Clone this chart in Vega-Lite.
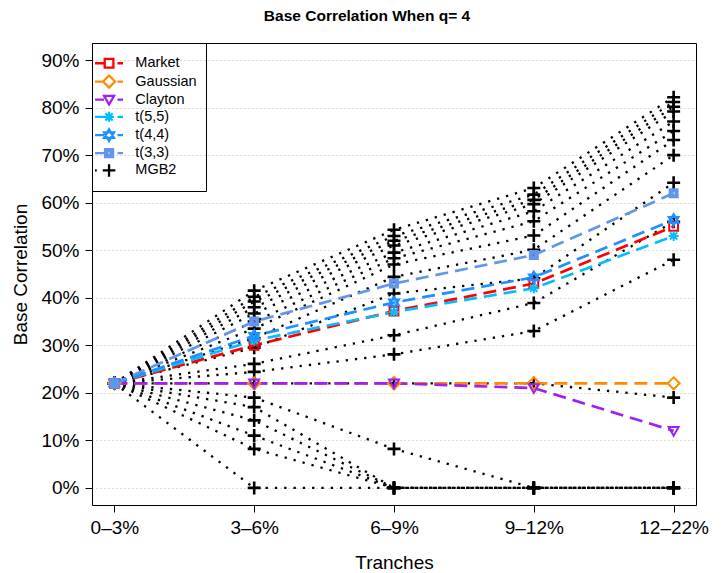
{
  "$schema": "https://vega.github.io/schema/vega-lite/v6.json",
  "width": 604,
  "height": 462,
  "autosize": "none",
  "padding": {"left": 92, "top": 43, "right": 27, "bottom": 68},
  "background": "white",
  "title": {"text": "Base Correlation When q= 4", "font": "Liberation Sans", "fontSize": 15.5, "fontWeight": "bold", "color": "black", "anchor": "middle", "dx": -27, "offset": 18},
  "config": {
    "view": {"stroke": "black", "strokeWidth": 1},
    "axis": {"labelFont": "Liberation Sans", "titleFont": "Liberation Sans", "labelFontSize": 19, "titleFontSize": 19, "titleFontWeight": "normal", "labelColor": "black", "titleColor": "black", "tickColor": "black", "tickSize": 7, "tickWidth": 1, "domain": false},
    "legend": {"orient": "top-left", "offset": 0, "padding": 9, "strokeColor": "black", "symbolSize": 100, "symbolStrokeWidth": 2.3, "symbolOpacity": 1, "symbolOffset": 0.8, "labelOffset": 19, "labelFont": "Liberation Sans", "labelFontSize": 14.5, "labelColor": "black", "rowPadding": -2.7, "cornerRadius": 0, "titleFontSize": 2, "titlePadding": 2, "titleColor": "white"}
  },
  "datasets": {
    "series": [
      {"series": "Market", "tranche": "0–3%", "value": 22},
      {"series": "Market", "tranche": "3–6%", "value": 30},
      {"series": "Market", "tranche": "6–9%", "value": 37.2},
      {"series": "Market", "tranche": "9–12%", "value": 43},
      {"series": "Market", "tranche": "12–22%", "value": 55},
      {"series": "Gaussian", "tranche": "0–3%", "value": 22},
      {"series": "Gaussian", "tranche": "3–6%", "value": 22},
      {"series": "Gaussian", "tranche": "6–9%", "value": 22},
      {"series": "Gaussian", "tranche": "9–12%", "value": 22},
      {"series": "Gaussian", "tranche": "12–22%", "value": 22},
      {"series": "Clayton", "tranche": "0–3%", "value": 22},
      {"series": "Clayton", "tranche": "3–6%", "value": 22},
      {"series": "Clayton", "tranche": "6–9%", "value": 22},
      {"series": "Clayton", "tranche": "9–12%", "value": 21},
      {"series": "Clayton", "tranche": "12–22%", "value": 12},
      {"series": "t(5,5)", "tranche": "0–3%", "value": 22},
      {"series": "t(5,5)", "tranche": "3–6%", "value": 31},
      {"series": "t(5,5)", "tranche": "6–9%", "value": 37},
      {"series": "t(5,5)", "tranche": "9–12%", "value": 42},
      {"series": "t(5,5)", "tranche": "12–22%", "value": 53},
      {"series": "t(4,4)", "tranche": "0–3%", "value": 22},
      {"series": "t(4,4)", "tranche": "3–6%", "value": 32},
      {"series": "t(4,4)", "tranche": "6–9%", "value": 39},
      {"series": "t(4,4)", "tranche": "9–12%", "value": 44.3},
      {"series": "t(4,4)", "tranche": "12–22%", "value": 56.4},
      {"series": "t(3,3)", "tranche": "0–3%", "value": 22},
      {"series": "t(3,3)", "tranche": "3–6%", "value": 35},
      {"series": "t(3,3)", "tranche": "6–9%", "value": 43},
      {"series": "t(3,3)", "tranche": "9–12%", "value": 49},
      {"series": "t(3,3)", "tranche": "12–22%", "value": 62}
    ],
    "mgb2": [
      {"line": "L1", "tranche": "0–3%", "value": 22}, {"line": "L1", "tranche": "3–6%", "value": 41.5}, {"line": "L1", "tranche": "6–9%", "value": 54.3}, {"line": "L1", "tranche": "9–12%", "value": 63.1}, {"line": "L1", "tranche": "12–22%", "value": 82.2},
      {"line": "L2", "tranche": "0–3%", "value": 22}, {"line": "L2", "tranche": "3–6%", "value": 40.2}, {"line": "L2", "tranche": "6–9%", "value": 53}, {"line": "L2", "tranche": "9–12%", "value": 61.7}, {"line": "L2", "tranche": "12–22%", "value": 81.2},
      {"line": "L3", "tranche": "0–3%", "value": 22}, {"line": "L3", "tranche": "3–6%", "value": 39.2}, {"line": "L3", "tranche": "6–9%", "value": 52}, {"line": "L3", "tranche": "9–12%", "value": 60.6}, {"line": "L3", "tranche": "12–22%", "value": 80.2},
      {"line": "L4", "tranche": "0–3%", "value": 22}, {"line": "L4", "tranche": "3–6%", "value": 38}, {"line": "L4", "tranche": "6–9%", "value": 51}, {"line": "L4", "tranche": "9–12%", "value": 59.7}, {"line": "L4", "tranche": "12–22%", "value": 79.2},
      {"line": "L5", "tranche": "0–3%", "value": 22}, {"line": "L5", "tranche": "3–6%", "value": 36.7}, {"line": "L5", "tranche": "6–9%", "value": 49.5}, {"line": "L5", "tranche": "9–12%", "value": 58.2}, {"line": "L5", "tranche": "12–22%", "value": 77.1},
      {"line": "L6", "tranche": "0–3%", "value": 22}, {"line": "L6", "tranche": "3–6%", "value": 35}, {"line": "L6", "tranche": "6–9%", "value": 48.3}, {"line": "L6", "tranche": "9–12%", "value": 56.1}, {"line": "L6", "tranche": "12–22%", "value": 75.1},
      {"line": "L7", "tranche": "0–3%", "value": 22}, {"line": "L7", "tranche": "3–6%", "value": 33.5}, {"line": "L7", "tranche": "6–9%", "value": 47}, {"line": "L7", "tranche": "9–12%", "value": 53.1}, {"line": "L7", "tranche": "12–22%", "value": 73.2},
      {"line": "L8", "tranche": "0–3%", "value": 22}, {"line": "L8", "tranche": "3–6%", "value": 31.5}, {"line": "L8", "tranche": "6–9%", "value": 44.4}, {"line": "L8", "tranche": "9–12%", "value": 50.1}, {"line": "L8", "tranche": "12–22%", "value": 70},
      {"line": "L9", "tranche": "0–3%", "value": 22}, {"line": "L9", "tranche": "3–6%", "value": 29.5}, {"line": "L9", "tranche": "6–9%", "value": 40.9}, {"line": "L9", "tranche": "9–12%", "value": 44.1}, {"line": "L9", "tranche": "12–22%", "value": 64.2},
      {"line": "L10", "tranche": "0–3%", "value": 22}, {"line": "L10", "tranche": "3–6%", "value": 26.1}, {"line": "L10", "tranche": "6–9%", "value": 32.1}, {"line": "L10", "tranche": "9–12%", "value": 38.9}, {"line": "L10", "tranche": "12–22%", "value": 56},
      {"line": "L11", "tranche": "0–3%", "value": 22}, {"line": "L11", "tranche": "3–6%", "value": 24.4}, {"line": "L11", "tranche": "6–9%", "value": 28.1}, {"line": "L11", "tranche": "9–12%", "value": 33}, {"line": "L11", "tranche": "12–22%", "value": 48},
      {"line": "L12", "tranche": "0–3%", "value": 22}, {"line": "L12", "tranche": "3–6%", "value": 22}, {"line": "L12", "tranche": "6–9%", "value": 22}, {"line": "L12", "tranche": "9–12%", "value": 22}, {"line": "L12", "tranche": "12–22%", "value": 19},
      {"line": "L13", "tranche": "0–3%", "value": 22}, {"line": "L13", "tranche": "3–6%", "value": 19}, {"line": "L13", "tranche": "6–9%", "value": 8.2}, {"line": "L13", "tranche": "9–12%", "value": 0}, {"line": "L13", "tranche": "12–22%", "value": 0},
      {"line": "L14", "tranche": "0–3%", "value": 22}, {"line": "L14", "tranche": "3–6%", "value": 17}, {"line": "L14", "tranche": "6–9%", "value": 0}, {"line": "L14", "tranche": "9–12%", "value": 0}, {"line": "L14", "tranche": "12–22%", "value": 0},
      {"line": "L15", "tranche": "0–3%", "value": 22}, {"line": "L15", "tranche": "3–6%", "value": 14.2}, {"line": "L15", "tranche": "6–9%", "value": 0}, {"line": "L15", "tranche": "9–12%", "value": 0}, {"line": "L15", "tranche": "12–22%", "value": 0},
      {"line": "L16", "tranche": "0–3%", "value": 22}, {"line": "L16", "tranche": "3–6%", "value": 11}, {"line": "L16", "tranche": "6–9%", "value": 0}, {"line": "L16", "tranche": "9–12%", "value": 0}, {"line": "L16", "tranche": "12–22%", "value": 0},
      {"line": "L17", "tranche": "0–3%", "value": 22}, {"line": "L17", "tranche": "3–6%", "value": 8.2}, {"line": "L17", "tranche": "6–9%", "value": 0}, {"line": "L17", "tranche": "9–12%", "value": 0}, {"line": "L17", "tranche": "12–22%", "value": 0},
      {"line": "L18", "tranche": "0–3%", "value": 22}, {"line": "L18", "tranche": "3–6%", "value": 0}, {"line": "L18", "tranche": "6–9%", "value": 0}, {"line": "L18", "tranche": "9–12%", "value": 0}, {"line": "L18", "tranche": "12–22%", "value": 0}
    ],
    "legend": [
      {"series": "Market", "tranche": "0–3%", "value": 22},
      {"series": "Gaussian", "tranche": "0–3%", "value": 22},
      {"series": "Clayton", "tranche": "0–3%", "value": 22},
      {"series": "t(5,5)", "tranche": "0–3%", "value": 22},
      {"series": "t(4,4)", "tranche": "0–3%", "value": 22},
      {"series": "t(3,3)", "tranche": "0–3%", "value": 22},
      {"series": "MGB2", "tranche": "0–3%", "value": 22}
    ]
  },
  "encoding": {
    "x": {
      "field": "tranche", "type": "ordinal",
      "sort": ["0–3%", "3–6%", "6–9%", "9–12%", "12–22%"],
      "scale": {"type": "point", "padding": 0.16},
      "axis": {"title": "Tranches", "labelAngle": 0, "grid": false, "labelPadding": 6, "titleY": 57, "titleBaseline": "middle"}
    },
    "y": {
      "field": "value", "type": "quantitative",
      "scale": {"domain": [-3.6, 93.6], "nice": false, "zero": false},
      "axis": {"values": [0, 10, 20, 30, 40, 50, 60, 70, 80, 90], "labelExpr": "datum.value + '%'", "title": "Base Correlation", "grid": true, "gridDash": [1, 3], "gridColor": "#b8b8b8", "gridWidth": 1, "labelPadding": 6, "titleX": -72, "titleY": 231, "titleBaseline": "middle", "titleAlign": "center", "titleAngle": -90}
    }
  },
  "layer": [
    {
      "data": {"name": "mgb2"},
      "mark": {"type": "line", "color": "black", "strokeWidth": 2.3, "strokeDash": [2.3, 7]},
      "encoding": {"detail": {"field": "line"}, "order": {"value": null}}
    },
    {
      "data": {"name": "mgb2"},
      "mark": {"type": "point", "shape": "M-1.3,0H1.3M0,-1.3V1.3", "size": 100, "filled": false, "color": "black", "strokeWidth": 2.6, "opacity": 1}
    },
    {
      "data": {"name": "series"},
      "mark": {"type": "line", "strokeWidth": 2.7, "strokeDash": [13, 7]},
      "encoding": {
        "color": {"field": "series", "type": "nominal", "scale": {"domain": ["Market", "Gaussian", "Clayton", "t(5,5)", "t(4,4)", "t(3,3)", "MGB2"], "range": ["#ff0000", "#ff8c00", "#a020f0", "#00bfff", "#1e90ff", "#6495ed", "#000000"]}, "legend": null},
        "order": {"value": null}
      }
    },
    {
      "data": {"name": "series"},
      "mark": {"type": "point", "filled": false, "size": 100, "strokeWidth": 2, "opacity": 1},
      "encoding": {
        "color": {"field": "series", "type": "nominal", "legend": null},
        "shape": {"field": "series", "type": "nominal", "legend": null, "scale": {"domain": ["Market", "Gaussian", "Clayton", "t(5,5)", "t(4,4)", "t(3,3)"], "range": [
          "M-0.88,-0.88H0.88V0.88H-0.88Z",
          "M0,-1.2L1.2,0L0,1.2L-1.2,0Z",
          "M-1,-0.75H1L0,1Z",
          "M-1,0H1M0,-1V1M-0.72,-0.72L0.72,0.72M-0.72,0.72L0.72,-0.72",
          "M0,-1.15L1,0.58L-1,0.58Z M0,1.15L1,-0.58L-1,-0.58Z",
          "M-0.8,-0.8H0.8V0.8H-0.8Z M-0.4,-0.4H0.4V0.4H-0.4Z M-0.06,0H0.06"
        ]}}
      }
    },
    {
      "data": {"name": "legend"},
      "mark": {"type": "point", "filled": false, "size": 100, "opacity": 0},
      "encoding": {
        "color": {
          "field": "series", "type": "nominal",
          "legend": {
            "title": " ",
            "encoding": {
              "symbols": {
                "opacity": {"value": 1},
                "stroke": {"value": {"expr": "datum.value === 'Market' ? '#ff0000' : datum.value === 'Gaussian' ? '#ff8c00' : datum.value === 'Clayton' ? '#a020f0' : datum.value === 't(5,5)' ? '#00bfff' : datum.value === 't(4,4)' ? '#1e90ff' : datum.value === 't(3,3)' ? '#6495ed' : '#000000'"}}
              }
            }
          }
        },
        "shape": {
          "field": "series", "type": "nominal",
          "scale": {"domain": ["Market", "Gaussian", "Clayton", "t(5,5)", "t(4,4)", "t(3,3)", "MGB2"], "range": [
            "M-2.8,0H-0.84M1.68,0H2.8M-0.87,-0.87H0.87V0.87H-0.87Z",
            "M-2.8,0H-1.2M1.68,0H2.8M0,-1.2L1.2,0L0,1.2L-1.2,0Z",
            "M-2.8,0H-1M1.68,0H2.8M-1,-0.75H1L0,1Z",
            "M-2.8,0H1M1.68,0H2.8M0,-1V1M-0.73,-0.73L0.73,0.73M-0.73,0.73L0.73,-0.73",
            "M-2.8,0H-1M1.68,0H2.8M0,-1.15L1,0.56L-1,0.56Z M0,1.15L1,-0.56L-1,-0.56Z",
            "M-2.8,0H-0.84M1.68,0H2.8M-0.8,-0.8H0.8V0.8H-0.8Z M-0.4,-0.4H0.4V0.4H-0.4Z M-0.08,0H0.08",
            "M-2.8,0H-2.46M-1.26,0H1.26M0,-1.26V1.26"
          ]},
          "legend": {
            "title": " ",
            "encoding": {
              "symbols": {
                "opacity": {"value": 1},
                "stroke": {"value": {"expr": "datum.value === 'Market' ? '#ff0000' : datum.value === 'Gaussian' ? '#ff8c00' : datum.value === 'Clayton' ? '#a020f0' : datum.value === 't(5,5)' ? '#00bfff' : datum.value === 't(4,4)' ? '#1e90ff' : datum.value === 't(3,3)' ? '#6495ed' : '#000000'"}}
              }
            }
          }
        }
      }
    }
  ],
  "resolve": {"scale": {"shape": "independent"}}
}
